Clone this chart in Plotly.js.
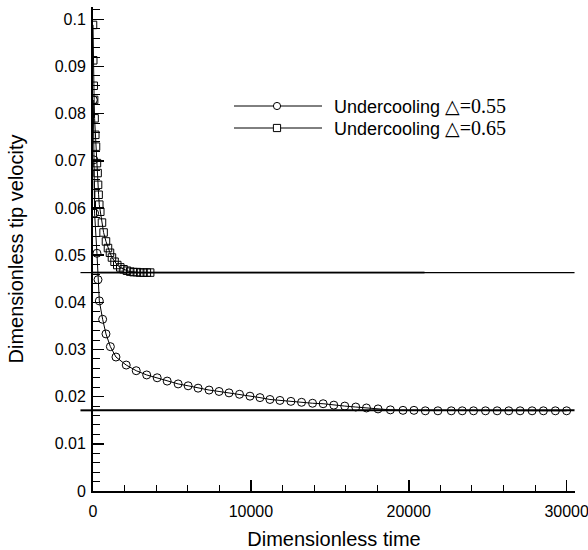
<!DOCTYPE html>
<html>
<head>
<meta charset="utf-8">
<script src="https://cdn.plot.ly/plotly-3.0.1.min.js"></script>
<style>
  html, body { margin: 0; padding: 0; background: #fff; }
  #chart { width: 588px; height: 550px; }
</style>
</head>
<body>
<div id="chart"></div>
<script>
// ---- data ----
// Undercooling 0.55 (circles)
const circT = [20, 50, 100, 250, 316, 400, 610, 822, 1100, 1454,
  2105, 2737, 3401, 4064, 4697, 5392, 6024, 6656, 7352, 7984, 8616, 9279, 9943, 10575,
  11207, 11839, 12535, 13211, 13906, 14576, 15253, 15948, 16643, 17320, 18053, 18837,
  19633, 20329, 21049, 21846, 22693, 23388, 24102, 24861, 25600, 26334, 27054, 27813, 28527, 29286, 30000];
const circV = [0.0829, 0.0702, 0.0589, 0.0504, 0.0448, 0.0403, 0.0364, 0.0333, 0.0306, 0.0284,
  0.0267, 0.0255, 0.0246, 0.0240, 0.0233, 0.0227, 0.0223, 0.0218, 0.0214, 0.0211, 0.0208, 0.0205, 0.0201, 0.0198,
  0.0194, 0.0192, 0.0190, 0.0188, 0.0186, 0.0185, 0.0182, 0.0180, 0.0178, 0.0176, 0.0174, 0.0172,
  0.0171, 0.0171, 0.0170, 0.0170, 0.0170, 0.0170, 0.0170, 0.0170, 0.0170, 0.0170, 0.0170, 0.0170, 0.0170, 0.0170, 0.0170];

// Undercooling 0.65 (squares)
const sqT = [0, 15, 45, 70, 100, 145, 190, 250, 290, 320, 355, 398, 461, 569, 670, 822, 948, 1075, 1201,
  1365, 1536, 1726, 1934, 2149, 2358, 2566, 2780, 2990, 3200, 3410, 3620];
const sqV = [0.0988, 0.0913, 0.0859, 0.0829, 0.0790, 0.0755, 0.0730, 0.0695, 0.0674, 0.0649, 0.0628, 0.0607,
  0.0592, 0.0569, 0.0548, 0.0529, 0.0515, 0.0505, 0.0495, 0.0486, 0.0479, 0.0474, 0.0470, 0.0467, 0.0465,
  0.0464, 0.0464, 0.0463, 0.0463, 0.0463, 0.0463];

// steady-state reference levels
const refLevels = [0.0463, 0.0171];
const refSpan = [0, 30500];
const refSpanShort = [0, 21000];

const seriesNames = ['Undercooling ', 'Undercooling '];
const seriesDeltas = ['\u25B3', '\u25B3'];
const seriesValues = ['=0.55', '=0.65'];

// ---- traces ----
const traces = [
  {x: refSpanShort, y: [refLevels[0], refLevels[0]], mode: 'lines', line: {color: '#555', width: 2}, showlegend: false, hoverinfo: 'skip'},
  {x: refSpan, y: [refLevels[0], refLevels[0]], mode: 'lines', line: {color: '#000', width: 1.2}, showlegend: false, hoverinfo: 'skip'},
  {x: refSpan, y: [refLevels[1], refLevels[1]], mode: 'lines', line: {color: '#000', width: 2}, showlegend: false, hoverinfo: 'skip'},
  {x: circT, y: circV, mode: 'lines+markers', name: seriesNames[0] + seriesDeltas[0] + seriesValues[0],
   line: {color: '#000', width: 1}, marker: {symbol: 'circle-open', size: 8, color: '#000', line: {width: 1}}, showlegend: false},
  {x: sqT, y: sqV, mode: 'lines+markers', name: seriesNames[1] + seriesDeltas[1] + seriesValues[1],
   line: {color: '#000', width: 1}, marker: {symbol: 'square-open', size: 7.5, color: '#000', line: {width: 1}}, showlegend: false}
];

// ---- custom legend (long line samples like the reference) ----
const W = 588 - 93 - 13, H = 550 - 7 - 59;
function px2x(p) { return (p - 93) / W; }
function px2y(p) { return (550 - 59 - p) / H; }
const legRows = [106, 128];
const shapes = [];
const annotations = [];
const sansFam = 'Liberation Sans, Arial, Helvetica, sans-serif';

// short stubs of the reference levels reaching left of the y axis
refLevels.forEach((lv, i) => {
  shapes.push({type: 'line', xref: 'paper', yref: 'y', x0: -0.026, x1: 0, y0: lv, y1: lv,
    line: {color: '#000', width: i === 0 ? 1.2 : 2}});
});

legRows.forEach((ry, i) => {
  shapes.push({type: 'line', xref: 'paper', yref: 'paper', x0: px2x(234), x1: px2x(322), y0: px2y(ry), y1: px2y(ry), line: {color: '#000', width: 1}});
  const r = 3.6;
  shapes.push({type: i === 0 ? 'circle' : 'rect', xref: 'paper', yref: 'paper',
    x0: px2x(277 - r), x1: px2x(277 + r), y0: px2y(ry + r), y1: px2y(ry - r),
    line: {color: '#000', width: 1}, fillcolor: '#fff'});
  annotations.push({
    xref: 'paper', yref: 'paper', x: px2x(333), y: px2y(ry),
    xanchor: 'left', yanchor: 'middle', align: 'left', showarrow: false, borderpad: 0,
    text: seriesNames[i] +
      '<span style="font-family:\'DejaVu Sans\', sans-serif;font-size:19px">' + seriesDeltas[i] + '</span>' +
      '<span style="font-family:\'Liberation Serif\', \'Times New Roman\', serif;font-size:20px">' + seriesValues[i] + '</span>',
    font: {family: sansFam, size: 18, color: '#000'}
  });
});

const axisCommon = {
  showline: true, linecolor: '#000', linewidth: 2,
  ticks: 'inside', ticklen: 11, tickwidth: 1.5, tickcolor: '#000',
  showgrid: false, zeroline: false, mirror: false,
  ticklabeloverflow: 'allow',
  tickfont: {family: sansFam, size: 16, color: '#000'}
};

const layout = {
  width: 588, height: 550,
  margin: {l: 93, r: 13, t: 7, b: 59},
  paper_bgcolor: '#fff', plot_bgcolor: '#fff',
  showlegend: false,
  xaxis: Object.assign({}, axisCommon, {
    range: [0, 30530], dtick: 10000, tick0: 0, tickformat: 'd', ticklabelstandoff: 5,
    minor: {dtick: 2000, ticklen: 6.5, tickwidth: 1, ticks: 'inside', tickcolor: '#000'},
    title: {text: 'Dimensionless time', font: {family: sansFam, size: 20, color: '#000'}, standoff: 13}
  }),
  yaxis: Object.assign({}, axisCommon, {
    range: [0, 0.1026], dtick: 0.01, tick0: 0, ticklabelstandoff: 2,
    minor: {dtick: 0.002, ticklen: 6.5, tickwidth: 1, ticks: 'inside', tickcolor: '#000'},
    title: {text: 'Dimensionless tip velocity', font: {family: sansFam, size: 20, color: '#000'}, standoff: 26}
  }),
  shapes: shapes,
  annotations: annotations
};

Plotly.newPlot('chart', traces, layout, {displayModeBar: false, staticPlot: true});
</script>
</body>
</html>
